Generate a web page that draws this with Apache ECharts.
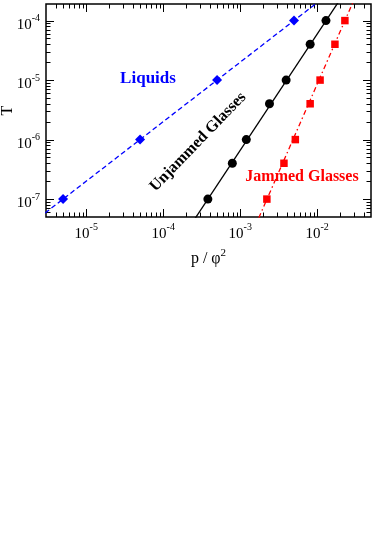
<!DOCTYPE html>
<html>
<head>
<meta charset="utf-8">
<script src="https://cdn.jsdelivr.net/npm/echarts@6/dist/echarts.min.js"></script>
<style>
html,body{margin:0;padding:0;background:#fff;}
#chart{width:374px;height:540px;}
</style>
</head>
<body>
<div id="chart"></div>
<script>
// ---- data ----
const liquidsP = [5e-6, 5e-5, 5e-4, 5e-3];
const liquidsT = [1e-7, 1e-6, 1e-5, 1e-4];
const liquidsFitP = [2e-6, 1.2e-2];
const liquidsFitT = [4e-8, 2.4e-4];

const unjammedP = [3.8e-4, 7.9e-4, 1.2e-3, 2.4e-3, 3.95e-3, 8.1e-3, 1.3e-2];
const unjammedT = [1e-7, 4e-7, 1e-6, 4e-6, 1e-5, 4e-5, 1e-4];
const unjammedFitP = [2.5e-4, 2.0e-2];
const unjammedFitT = [4.4e-8, 2.3e-4];

const jammedP = [2.22e-3, 3.7e-3, 5.2e-3, 8.1e-3, 1.09e-2, 1.7e-2, 2.29e-2];
const jammedT = [1e-7, 4e-7, 1e-6, 4e-6, 1e-5, 4e-5, 1e-4];
const jammedFitP = [1.5e-3, 4e-2];
const jammedFitT = [3.1e-8, 5.2e-4];

const xMin = 3e-6, xMax = 5e-2;
const yMin = 5e-8, yMax = 1.9e-4;
const xDecades = [-6, -5, -4, -3, -2, -1];
const yDecades = [-8, -7, -6, -5, -4, -3];
const minorMultipliers = [2, 3, 4, 5, 6, 7, 8, 9];

const labels = {
  xTitleMain: 'p / φ', xTitleSup: '2', yTitle: 'T',
  liquids: 'Liquids', unjammed: 'Unjammed Glasses', jammed: 'Jammed Glasses'
};

// ---- build ----
const FONT = '"Liberation Serif", "Times New Roman", serif';
function zip(a, b) { return a.map((v, i) => [v, b[i]]); }

const tickData = [];
xDecades.forEach(d => {
  const base = Math.pow(10, d);
  [1].concat(minorMultipliers).forEach(k => {
    const v = k * base;
    if (v > xMin && v < xMax) tickData.push([v, yMin, 0, k === 1 ? 1 : 0]);
  });
});
yDecades.forEach(d => {
  const base = Math.pow(10, d);
  [1].concat(minorMultipliers).forEach(k => {
    const v = k * base;
    if (v > yMin && v < yMax) tickData.push([xMin, v, 1, k === 1 ? 1 : 0]);
  });
});

function powLabel(v) {
  const e = Math.round(Math.log10(v));
  if (Math.abs(Math.log10(v) - e) > 1e-6) return '';
  return '{b|10}{s|' + e + '}';
}

const chart = echarts.init(document.getElementById('chart'), null, {renderer: 'canvas'});
chart.setOption({
  animation: false,
  backgroundColor: '#fff',
  grid: {left: 46, right: 3, top: 4, bottom: 323, containLabel: false, outerBoundsMode: 'none',
    show: true, borderColor: '#000', borderWidth: 1.5, backgroundColor: 'transparent'},
  xAxis: {
    type: 'log', min: xMin, max: xMax,
    axisLine: {show: false}, axisTick: {show: false}, splitLine: {show: false}, minorTick: {show: false},
    axisLabel: {
      formatter: powLabel, margin: 2, showMinLabel: false, showMaxLabel: false,
      rich: {
        b: {fontFamily: FONT, fontSize: 15, color: '#000', padding: [8, 0, 0, 0]},
        s: {fontFamily: FONT, fontSize: 10, color: '#000', padding: [0, 0, 6, 0]}
      }
    },
    name: '{a|' + labels.xTitleMain + '}{s|' + labels.xTitleSup + '}',
    nameLocation: 'middle', nameGap: 31, nameMoveOverlap: false,
    nameTextStyle: {
      rich: {
        a: {fontFamily: FONT, fontSize: 16, color: '#000'},
        s: {fontFamily: FONT, fontSize: 11, color: '#000', padding: [0, 0, 10, 0]}
      }
    }
  },
  yAxis: {
    type: 'log', min: yMin, max: yMax,
    axisLine: {show: false}, axisTick: {show: false}, splitLine: {show: false}, minorTick: {show: false},
    axisLabel: {
      formatter: powLabel, margin: 6, showMinLabel: false, showMaxLabel: false,
      rich: {
        b: {fontFamily: FONT, fontSize: 15, color: '#000', padding: [8, 0, 0, 0]},
        s: {fontFamily: FONT, fontSize: 10, color: '#000', padding: [0, 0, 4, 0]}
      }
    },
    name: labels.yTitle, nameLocation: 'middle', nameGap: 30, nameRotate: 90, nameMoveOverlap: false,
    nameTextStyle: {fontFamily: FONT, fontSize: 16, color: '#000'}
  },
  series: [
    {
      type: 'custom', coordinateSystem: 'cartesian2d', silent: true, z: 1,
      data: tickData, encode: {x: 0, y: 1},
      renderItem: function (params, api) {
        const cs = params.coordSys;
        const isY = api.value(2), major = api.value(3);
        const len = major ? 8 : 4.5;
        const p = api.coord([api.value(0), api.value(1)]);
        const st = {stroke: '#000', lineWidth: 1};
        if (!isY) {
          const x = Math.round(p[0]) + 0.5;
          const yb = cs.y + cs.height, yt = cs.y;
          return {type: 'group', children: [
            {type: 'line', shape: {x1: x, y1: yb, x2: x, y2: yb - len}, style: st},
            {type: 'line', shape: {x1: x, y1: yt, x2: x, y2: yt + len}, style: st}
          ]};
        } else {
          const y = Math.round(p[1]) + 0.5;
          const xl = cs.x, xr = cs.x + cs.width;
          return {type: 'group', children: [
            {type: 'line', shape: {x1: xl, y1: y, x2: xl + len, y2: y}, style: st},
            {type: 'line', shape: {x1: xr, y1: y, x2: xr - len, y2: y}, style: st}
          ]};
        }
      }
    },
    {type: 'line', data: zip(liquidsFitP, liquidsFitT), showSymbol: false, silent: true, clip: true,
      lineStyle: {color: '#0000ff', width: 1.3, type: [5, 3], opacity: 1}},
    {type: 'line', data: zip(unjammedFitP, unjammedFitT), showSymbol: false, silent: true, clip: true,
      lineStyle: {color: '#000', width: 1.3, opacity: 1}},
    {type: 'line', data: zip(jammedFitP, jammedFitT), showSymbol: false, silent: true, clip: true,
      lineStyle: {color: '#ff0000', width: 1.3, type: [5, 3, 1.5, 3], opacity: 1}},
    {type: 'scatter', data: zip(liquidsP, liquidsT), symbol: 'diamond', symbolSize: 10,
      itemStyle: {color: '#0000ff', opacity: 1}, z: 5},
    {type: 'scatter', data: zip(unjammedP, unjammedT), symbol: 'circle', symbolSize: 9,
      itemStyle: {color: '#000', opacity: 1}, z: 5},
    {type: 'scatter', data: zip(jammedP, jammedT), symbol: 'rect', symbolSize: 7.5,
      itemStyle: {color: '#ff0000', opacity: 1}, z: 5}
  ],
  graphic: [
    {type: 'text', x: 148, y: 79, z: 10,
      style: {text: labels.liquids, fill: '#0000ff', font: 'bold 17px ' + FONT, align: 'center', verticalAlign: 'middle'}},
    {type: 'text', x: 198, y: 142, rotation: 46 * Math.PI / 180, z: 10,
      style: {text: labels.unjammed, fill: '#000', font: 'bold 16px ' + FONT, align: 'center', verticalAlign: 'middle'}},
    {type: 'text', x: 302, y: 177, z: 10,
      style: {text: labels.jammed, fill: '#ff0000', font: 'bold 16px ' + FONT, align: 'center', verticalAlign: 'middle'}}
  ]
});
</script>
</body>
</html>
